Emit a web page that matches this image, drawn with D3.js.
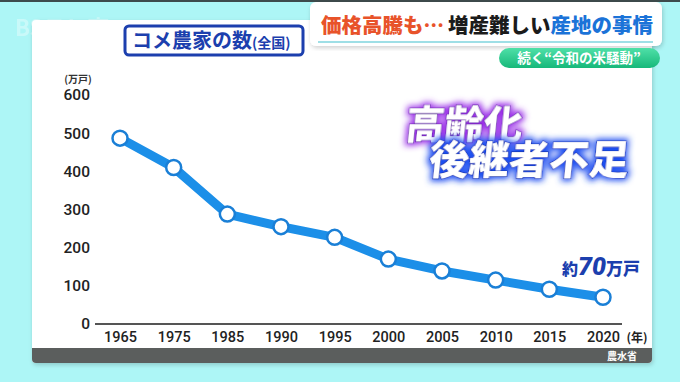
<!DOCTYPE html>
<html>
<head>
<meta charset="utf-8">
<script src="https://cdn.jsdelivr.net/npm/d3@7"></script>
<style>
  body { margin: 0; background: #adf6f6; }
  svg { display: block; }
  text { font-family: "Noto Sans CJK JP", "Noto Sans", sans-serif; }
</style>
</head>
<body>
<script>
// data
var years = ["1965", "1975", "1985", "1990", "1995", "2000", "2005", "2010", "2015", "2020"];
var farmers = [487, 410, 288, 255, 227, 170, 139, 115, 91, 70]; // 万戸
var yTicks = [0, 100, 200, 300, 400, 500, 600];

var w = 680, h = 382;
var svg = d3.select("body").append("svg")
    .attr("width", w)
    .attr("height", h);

var defs = svg.append("defs");
function glow(id, color) { // coloured halo behind white text
    var f = defs.append("filter").attr("id", id)
        .attr("x", "-20%").attr("y", "-40%").attr("width", "140%").attr("height", "180%");
    f.append("feMorphology").attr("in", "SourceAlpha").attr("operator", "dilate").attr("radius", 1.5).attr("result", "d");
    f.append("feGaussianBlur").attr("in", "d").attr("stdDeviation", 3).attr("result", "b");
    f.append("feFlood").attr("flood-color", color).attr("result", "c");
    f.append("feComposite").attr("in", "c").attr("in2", "b").attr("operator", "in").attr("result", "g");
    var m = f.append("feMerge");
    m.append("feMergeNode").attr("in", "g");
    m.append("feMergeNode").attr("in", "SourceGraphic");
}
glow("glowPurple", "#9b30e8");
glow("glowBlue", "#1f4ff0");

var shadow = defs.append("filter").attr("id", "shadow");
shadow.append("feDropShadow").attr("dx", 1).attr("dy", 2).attr("stdDeviation", 2)
    .attr("flood-color", "#000").attr("flood-opacity", 0.18);

var pillGrad = defs.append("linearGradient").attr("id", "pill").attr("x1", 0).attr("y1", 0).attr("x2", 0).attr("y2", 1);
pillGrad.append("stop").attr("offset", "0%").attr("stop-color", "#4fe0a8");
pillGrad.append("stop").attr("offset", "100%").attr("stop-color", "#17b87a");

// top strip and faint logo
svg.append("rect").attr("x", 0).attr("y", 0).attr("width", w).attr("height", 2).style("fill", "#3d4b4c");
svg.append("text").attr("x", 15).attr("y", 36)
    .style("font-size", "22px").style("font-weight", 700)
    .style("fill", "#fff").style("opacity", 0.35)
    .text("BSテレ東");

// white panel + source bar
svg.append("rect").attr("x", 32).attr("y", 20).attr("width", 620).attr("height", 343)
    .attr("rx", 4).style("fill", "#fff").attr("filter", "url(#shadow)");
svg.append("rect").attr("x", 32).attr("y", 348).attr("width", 620).attr("height", 15)
    .attr("rx", 4).style("fill", "#5b5e5d");
svg.append("rect").attr("x", 32).attr("y", 348).attr("width", 620).attr("height", 6).style("fill", "#5b5e5d");
svg.append("text").attr("x", 637).attr("y", 359.5).attr("text-anchor", "end")
    .style("font-size", "10px").style("font-weight", 700).style("fill", "#fff")
    .text("農水省");

// header box
svg.append("rect").attr("x", 310).attr("y", 2).attr("width", 352).attr("height", 44)
    .attr("rx", 6).style("fill", "#fff").attr("filter", "url(#shadow)");
svg.append("line").attr("x1", 318).attr("x2", 653).attr("y1", 42).attr("y2", 42)
    .style("stroke", "#9fdfe6").style("stroke-width", 2);
var head = svg.append("text").attr("x", 321).attr("y", 33)
    .style("font-size", "20.5px").style("font-weight", 900);
head.append("tspan").style("fill", "#e8532a").text("価格高騰も…");
head.append("tspan").attr("dx", 4).style("fill", "#1b1b1b").text("増産難しい");
head.append("tspan").style("fill", "#1b73d8").text("産地の事情");

svg.append("rect").attr("x", 499).attr("y", 48).attr("width", 161).attr("height", 20)
    .attr("rx", 10).style("fill", "url(#pill)");
svg.append("text").attr("x", 579).attr("y", 63).attr("text-anchor", "middle")
    .style("font-size", "13.5px").style("font-weight", 700).style("fill", "#fff")
    .text("続く“令和の米騒動”");

// title box
svg.append("rect").attr("x", 125).attr("y", 26).attr("width", 178).attr("height", 29)
    .attr("rx", 4).style("fill", "#fff").style("stroke", "#1c3fae").style("stroke-width", 3);
var title = svg.append("text").attr("x", 132).attr("y", 48)
    .style("fill", "#1c3fae").style("font-weight", 700);
title.append("tspan").style("font-size", "20px").text("コメ農家の数");
title.append("tspan").style("font-size", "14px").text("(全国)");

// scales
var x = d3.scalePoint().domain(years).range([120, 603]);
var y = d3.scaleLinear().domain([0, 600]).range([324, 95]);

// y axis labels
var yAxis = svg.append("g")
    .attr("transform", "translate(90,0)")
    .call(d3.axisLeft(y).tickValues(yTicks).tickSize(0).tickPadding(0));
yAxis.select(".domain").remove();
yAxis.selectAll("text")
    .style("font-family", "Roboto, 'Liberation Sans', sans-serif")
    .style("font-size", "15.5px").style("font-weight", 500).style("fill", "#222");
svg.append("text").attr("x", 78).attr("y", 83).attr("text-anchor", "middle")
    .style("font-size", "10px").style("font-weight", 700).style("fill", "#333")
    .text("(万戸)");

// x axis
var xAxis = svg.append("g")
    .attr("transform", "translate(0," + y(0) + ")")
    .call(d3.axisBottom(x).tickSize(0).tickPadding(8));
xAxis.select(".domain").remove();
xAxis.selectAll("text")
    .style("font-family", "Roboto, 'Liberation Sans', sans-serif")
    .style("font-size", "14.5px").style("font-weight", 500).style("fill", "#222");
svg.append("line")
    .attr("x1", x(years[0]) - 25).attr("x2", x(years[years.length - 1]) + 19)
    .attr("y1", y(0)).attr("y2", y(0))
    .style("stroke", "#555").style("stroke-width", 2);
svg.append("text").attr("x", 637).attr("y", y(0) + 18).attr("text-anchor", "middle")
    .style("font-size", "12px").style("font-weight", 700).style("fill", "#222")
    .text("(年)");

// line + points
var line = d3.line()
    .x(function(d, i){ return x(years[i]); })
    .y(function(d){ return y(d); });
svg.append("path").datum(farmers)
    .attr("d", line)
    .style("fill", "none").style("stroke", "#1c8fe8").style("stroke-width", 9)
    .style("stroke-linejoin", "round");
svg.selectAll(".pt").data(farmers).enter().append("circle")
    .attr("class", "pt")
    .attr("cx", function(d, i){ return x(years[i]); })
    .attr("cy", function(d){ return y(d); })
    .attr("r", 7.5)
    .style("fill", "#fff").style("stroke", "#1a7fd6").style("stroke-width", 2.5);

// annotation for last point
var last = svg.append("text")
    .attr("x", 640).attr("y", y(farmers[farmers.length - 1]) - 22).attr("text-anchor", "end")
    .style("fill", "#1c3fae").style("font-weight", 900);
last.append("tspan").style("font-size", "16px").text("約");
last.append("tspan").style("font-size", "25px").style("font-style", "italic")
    .style("font-family", "Roboto, 'Liberation Sans', sans-serif").text("70");
last.append("tspan").style("font-size", "17px").text("万戸");

// big callouts
svg.append("text").attr("x", 405).attr("y", 138)
    .attr("transform", "skewX(-6) translate(14,0)")
    .style("font-size", "39px").style("font-weight", 900)
    .style("fill", "#fff").style("stroke", "#5a169c").style("stroke-width", 1.2)
    .style("paint-order", "stroke").attr("filter", "url(#glowPurple)")
    .text("高齢化");
svg.append("text").attr("x", 428).attr("y", 174)
    .attr("transform", "skewX(-6) translate(18,0)")
    .style("font-size", "40px").style("font-weight", 900)
    .style("fill", "#fff").style("stroke", "#1630a8").style("stroke-width", 1.2)
    .style("paint-order", "stroke").attr("filter", "url(#glowBlue)")
    .text("後継者不足");
</script>
</body>
</html>
